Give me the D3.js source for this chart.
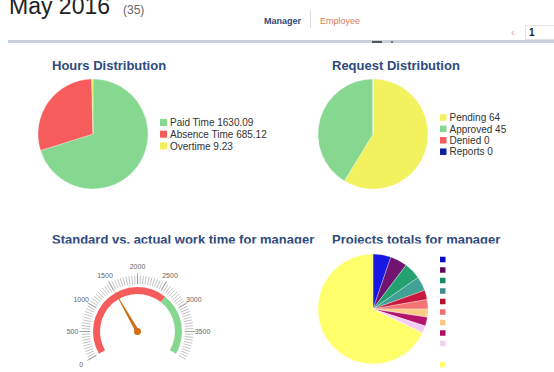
<!DOCTYPE html>
<html>
<head>
<meta charset="utf-8">
<script src="https://cdn.jsdelivr.net/npm/d3@7"></script>
<style>
  body { margin: 0; background: #fff; }
  svg { display: block; font-family: "Liberation Sans", Arial, sans-serif; }
  .title { font-size: 13px; font-weight: bold; fill: #2f4a7c; }
  .legend text { font-size: 10px; fill: #333; }
</style>
</head>
<body>
<div id="chart"></div>
<script>
// hours distribution
var hoursLabels = ["Paid Time", "Absence Time", "Overtime"];
var hoursValues = [1630.09, 685.12, 9.23];
var hoursColors = ["#86d890", "#f65c5c", "#f0f05c"];

// request distribution
var requestLabels = ["Pending", "Approved", "Denied", "Reports"];
var requestValues = [64, 45, 0, 0];
var requestColors = ["#f2f25e", "#86d890", "#f65c5c", "#0a22a0"];

// standard vs actual work time (gauge)
var gaugeMin = 0, gaugeMax = 4000;
var gaugeLabels = [0, 500, 1000, 1500, 2000, 2500, 3000, 3500];
var gaugeBands = [[0, 2640, "#f65c5c"], [2640, 4000, "#86d890"]];
var gaugeValue = 1505;

// projects totals (labels are empty in the source)
var projectValues = [122, 116, 116, 97, 64, 64, 55, 61, 51, 0, 1570];
var projectColors = ["#1818e4", "#701470", "#22a070", "#40a294", "#c8183e",
  "#f47474", "#fdcc88", "#b4146c", "#f4ccf4", "#ffffff", "#ffff6c"];
var legendColors = ["#0a0acc", "#600a58", "#1a8a60", "#3a9088", "#b0102c",
  "#f07070", "#fcc880", "#b01060", "#f0d2f0", "#ffffff", "#ffff70"];

var W = 554, H = 372;
var svg = d3.select("#chart").append("svg")
  .attr("width", W).attr("height", H);
var defs = svg.append("defs");

// ---------- header ----------
svg.append("text").attr("x", 9).attr("y", 14)
  .style("font-size", "23px").style("fill", "#222").text("May 2016");
svg.append("text").attr("x", 123).attr("y", 14)
  .style("font-size", "12px").style("fill", "#666").text("(35)");
svg.append("text").attr("x", 264).attr("y", 24)
  .style("font-size", "9px").style("font-weight", "bold").style("fill", "#34477a").text("Manager");
svg.append("line").attr("x1", 310.5).attr("x2", 310.5).attr("y1", 10).attr("y2", 28)
  .attr("stroke", "#ddd");
svg.append("text").attr("x", 320).attr("y", 24)
  .style("font-size", "9px").style("fill", "#e07a5a").text("Employee");
svg.append("text").attr("x", 511).attr("y", 36)
  .style("font-size", "11px").style("fill", "#eaa080").text("‹");
svg.append("rect").attr("x", 525.5).attr("y", 25.5).attr("width", 40).attr("height", 14)
  .attr("fill", "none").attr("stroke", "#e4e4e4");
svg.append("text").attr("x", 529).attr("y", 36)
  .style("font-size", "10px").style("font-weight", "bold").style("fill", "#222").text("1");
svg.append("rect").attr("x", 8).attr("y", 40).attr("width", W - 8).attr("height", 3)
  .attr("fill", "#c9d0da");
svg.append("rect").attr("x", 372).attr("y", 41).attr("width", 10).attr("height", 2).attr("fill", "#555");
svg.append("rect").attr("x", 391).attr("y", 41).attr("width", 2).attr("height", 2).attr("fill", "#777");

// ---------- helpers ----------
var gradId = 0;
function shade(color, cx, cy, r) {
  var id = "g" + (gradId++);
  var c = d3.color(color);
  var g = defs.append("radialGradient").attr("id", id)
    .attr("gradientUnits", "userSpaceOnUse")
    .attr("cx", cx).attr("cy", cy).attr("r", r);
  g.append("stop").attr("offset", "0%").attr("stop-color", c.brighter(0.25));
  g.append("stop").attr("offset", "100%").attr("stop-color", c);
  return "url(#" + id + ")";
}

function drawPie(cx, cy, r, values, colors) {
  var pie = d3.pie().sort(null).value(d => d)(values);
  var arc = d3.arc().innerRadius(0).outerRadius(r);
  var g = svg.append("g").attr("transform", "translate(" + cx + "," + cy + ")");
  g.selectAll("path")
    .data(pie)
    .enter()
    .append("path")
    .attr("d", arc)
    .attr("fill", (d, i) => colors[i] == "#ffffff" ? "#fff" : shade(colors[i], cx, cy, r))
    .attr("stroke", "#fff")
    .attr("stroke-width", 0.3);
}

function drawLegend(x, y, step, size, labels, colors) {
  var g = svg.append("g").attr("class", "legend");
  var items = g.selectAll("g")
    .data(colors)
    .enter()
    .append("g")
    .attr("transform", (d, i) => "translate(" + x + "," + (y + i * step) + ")");
  items.append("rect")
    .attr("x", 0).attr("y", -size / 2)
    .attr("width", size).attr("height", size)
    .attr("fill", d => d);
  items.append("text")
    .attr("x", size + 3).attr("y", 3.6)
    .text((d, i) => labels[i]);
}

// ---------- titles ----------
defs.append("clipPath").attr("id", "clipTitle")
  .append("rect").attr("x", 0).attr("y", 225).attr("width", W).attr("height", 18.4);

svg.append("text").attr("class", "title").attr("x", 52).attr("y", 69.5).text("Hours Distribution");
svg.append("text").attr("class", "title").attr("x", 332).attr("y", 69.5).text("Request Distribution");
svg.append("text").attr("class", "title").attr("x", 52).attr("y", 243.5)
  .attr("clip-path", "url(#clipTitle)").text("Standard vs. actual work time for manager");
svg.append("text").attr("class", "title").attr("x", 332).attr("y", 243.5)
  .attr("clip-path", "url(#clipTitle)").text("Projects totals for manager");

// ---------- hours pie ----------
drawPie(93, 134, 55, hoursValues, hoursColors);
drawLegend(160, 122.5, 11.7, 7,
  hoursLabels.map((l, i) => l + " " + hoursValues[i]), hoursColors);

// ---------- request pie ----------
drawPie(373, 134, 55, requestValues, requestColors);
drawLegend(440, 117.5, 11.4, 6.5,
  requestLabels.map((l, i) => l + " " + requestValues[i]), requestColors);

// ---------- gauge ----------
var gcx = 137.5, gcy = 331.5;
var ang = d3.scaleLinear().domain([gaugeMin, gaugeMax]).range([-120, 120]);
var rad = v => ang(v) * Math.PI / 180;
var gg = svg.append("g").attr("transform", "translate(" + gcx + "," + gcy + ")");

var minor = d3.range(gaugeMin, gaugeMax + 1, 50);
gg.selectAll("line.minor")
  .data(minor)
  .enter()
  .append("line")
  .attr("class", "minor")
  .attr("x1", d => 47.5 * Math.sin(rad(d)))
  .attr("y1", d => -47.5 * Math.cos(rad(d)))
  .attr("x2", d => 56 * Math.sin(rad(d)))
  .attr("y2", d => -56 * Math.cos(rad(d)))
  .attr("stroke", "#b4b4b4")
  .attr("stroke-width", 0.8);

gg.selectAll("line.major")
  .data(gaugeLabels)
  .enter()
  .append("line")
  .attr("class", "major")
  .attr("x1", d => 47.5 * Math.sin(rad(d)))
  .attr("y1", d => -47.5 * Math.cos(rad(d)))
  .attr("x2", d => 58 * Math.sin(rad(d)))
  .attr("y2", d => -58 * Math.cos(rad(d)))
  .attr("stroke", "#999")
  .attr("stroke-width", 0.9);

var bandArc = d3.arc().innerRadius(37.5).outerRadius(44.5)
  .startAngle(d => rad(d[0])).endAngle(d => rad(d[1]));
gg.selectAll("path.band")
  .data(gaugeBands)
  .enter()
  .append("path")
  .attr("class", "band")
  .attr("d", bandArc)
  .attr("fill", d => d[2]);

gg.selectAll("text.lbl")
  .data(gaugeLabels)
  .enter()
  .append("text")
  .attr("class", "lbl")
  .attr("x", d => 65 * Math.sin(rad(d)))
  .attr("y", d => -65 * Math.cos(rad(d)) + 2.5)
  .attr("text-anchor", "middle")
  .style("font-size", "7px")
  .style("fill", "#666")
  .text(d => d);

var na = rad(gaugeValue);
var needle = d3.path();
var tipR = 49, baseW = 1.8;
needle.moveTo(-baseW * Math.cos(na), -baseW * Math.sin(na));
needle.lineTo(tipR * Math.sin(na), -tipR * Math.cos(na));
needle.lineTo(baseW * Math.cos(na), baseW * Math.sin(na));
needle.closePath();
gg.append("path").attr("d", needle.toString()).attr("fill", "#d06c12");
gg.append("circle").attr("r", 3.5).attr("fill", "#d06c12");

// ---------- projects pie ----------
drawPie(373, 309, 55, projectValues, projectColors);
drawLegend(440, 259.5, 10.5, 5.5, projectColors.map(() => ""), legendColors);
</script>
</body>
</html>
